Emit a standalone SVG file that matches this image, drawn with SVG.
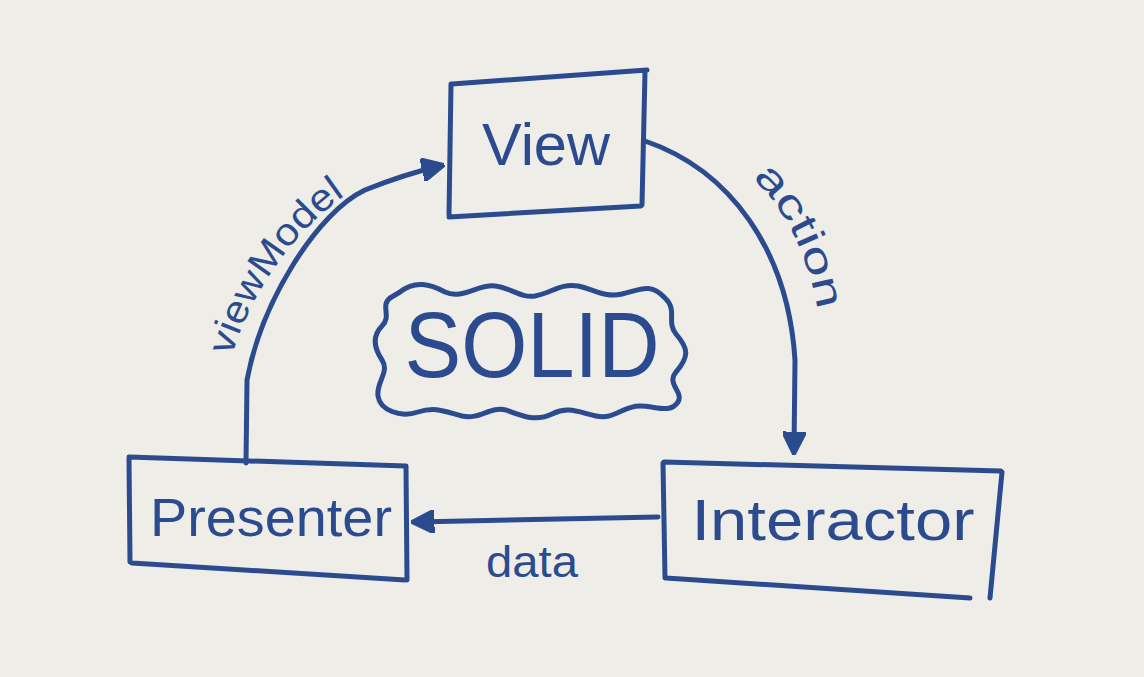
<svg xmlns="http://www.w3.org/2000/svg" width="1144" height="677" viewBox="0 0 1144 677">
<style>
.ink{fill:none;stroke:#2c4b8f;stroke-width:5;stroke-linecap:round;stroke-linejoin:round}
.lbl{fill:#2c4b8f;font-family:"Liberation Sans","DejaVu Sans",sans-serif}
</style>
<defs>
<marker id="ah" viewBox="0 0 10 10" refX="8" refY="5" markerWidth="4.6" markerHeight="4.6" orient="auto" markerUnits="strokeWidth">
<path d="M0,0 L10,5 L0,10 Z" fill="#2c4b8f" stroke="#2c4b8f" stroke-width="1.5" stroke-linejoin="round"/>
</marker>
</defs>
<rect x="0" y="0" width="1144" height="677" fill="#eeede7"/>
<g id="connectors">
<path class="ink" d="M246 463 L247 380 C262 300 318 212 365 190 Q405 174 440 166" marker-end="url(#ah)"/>
<path class="ink" d="M645 141 C730 170 788 250 795 360 L794 450" marker-end="url(#ah)"/>
<path class="ink" d="M658 517 L416 522" marker-end="url(#ah)"/>
<path id="vmPath" d="M232 356 C250 292 300 222 354 190" fill="none"/>
<path id="acPath" d="M752 178 C785 208 808 255 818 312" fill="none"/>
<text class="lbl" font-size="38"><textPath href="#vmPath" textLength="200" lengthAdjust="spacingAndGlyphs">viewModel</textPath></text>
<text class="lbl" font-size="40"><textPath href="#acPath" textLength="150" lengthAdjust="spacingAndGlyphs">action</textPath></text>
<text class="lbl" x="532" y="577" font-size="44" text-anchor="middle" textLength="92" lengthAdjust="spacingAndGlyphs">data</text>
</g>
<g id="view">
<path class="ink" d="M452 84 L647 70 M645 72 L642 205 M641 206 L449 217 M449 215 L451 84"/>
<text class="lbl" x="546" y="165" font-size="60" text-anchor="middle" textLength="128" lengthAdjust="spacingAndGlyphs">View</text>
</g>
<g id="presenter">
<path class="ink" d="M129 457 L406 466 M406 466 L407 580 M405 580 L132 563 M130 562 L129 458"/>
<text class="lbl" x="271" y="536" font-size="54" text-anchor="middle" textLength="242" lengthAdjust="spacingAndGlyphs">Presenter</text>
</g>
<g id="interactor">
<path class="ink" d="M664 462 L1001 471 M1002 472 L990 598 M970 598 L666 578 M665 578 L663 463"/>
<text class="lbl" x="833" y="540" font-size="58" text-anchor="middle" textLength="283" lengthAdjust="spacingAndGlyphs">Interactor</text>
</g>
<g id="solid">
<path class="ink" d="M400 292 C415 280 430 284 445 292 C462 300 478 284 495 286 C512 288 520 298 535 296 C552 293 560 283 578 286 C596 290 605 298 622 294 C640 290 650 282 665 298 C678 310 666 322 676 334 C688 348 690 356 676 372 C666 384 684 392 678 402 C670 414 656 406 640 406 C622 406 615 420 596 416 C578 412 568 406 552 414 C536 422 522 416 506 410 C490 406 480 420 462 416 C446 412 436 406 418 412 C400 418 380 410 378 396 C376 382 390 372 382 360 C374 348 372 336 382 326 C392 316 380 306 390 298 Z"/>
<text class="lbl" x="532" y="377" font-size="92" text-anchor="middle" textLength="255" lengthAdjust="spacingAndGlyphs">SOLID</text>
</g>
</svg>
